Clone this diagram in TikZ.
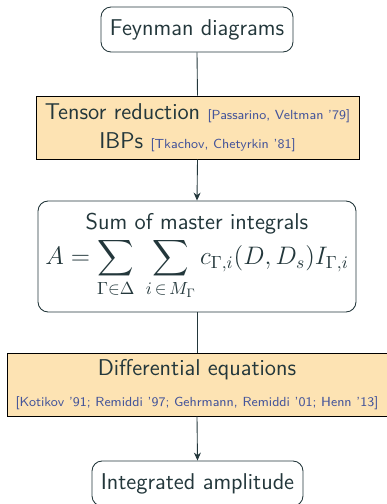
\documentclass[tikz,border=0pt]{standalone}
\usepackage{amsmath}
\usetikzlibrary{arrows.meta}
\definecolor{darkteal}{HTML}{23373B}
\definecolor{citeblue}{HTML}{45559A}
\definecolor{boxorange}{HTML}{FDE3B3}
\newcommand{\refnote}[1]{{\fontsize{7.5}{9}\selectfont\color{citeblue}[#1]}}
\tikzset{
  roundbox/.style={draw=darkteal, rounded corners=2mm, line width=0.5pt, text=darkteal,
    align=center, inner sep=0pt, font=\sffamily\fontsize{13}{16.5}\selectfont},
  orangebox/.style={draw=black, fill=boxorange, line width=0.5pt, text=darkteal,
    align=center, inner sep=0pt, font=\sffamily\fontsize{13}{16.5}\selectfont},
  flow/.style={draw=darkteal, line width=0.5pt},
  flowarrow/.style={flow, -{Stealth[length=1.6mm, width=1.4mm]}}
}

\begin{document}
\begin{tikzpicture}[x=0.02cm, y=-0.02cm]
  \useasboundingbox (0,0) rectangle (386,504);
  % Nodes
  \node[roundbox, minimum width=3.84cm, minimum height=0.9cm] (Feynman) at (197,29.5) {Feynman diagrams};
  \node[orangebox, minimum width=6.46cm, minimum height=1.26cm] (Tensor) at (197.5,127.5)
    {Tensor reduction \refnote{Passarino, Veltman '79}\\ IBPs \refnote{Tkachov, Chetyrkin '81}};
  \node[roundbox, minimum width=6.36cm, minimum height=2.22cm] (Masters) at (197,256.5)
    {Sum of master integrals\\[1pt]
     {\fontsize{14}{17}\selectfont
     $\displaystyle A=\sum_{\Gamma\in\Delta}\;\sum_{i\,\in\,M_\Gamma} c_{\Gamma,i}(D,D_s)I_{\Gamma,i}$%
     \rule[-6.3pt]{0pt}{0pt}}};
  \node[orangebox, minimum width=7.6cm, minimum height=1.26cm] (DiffEq) at (197,384.5)
    {Differential equations\\[1pt] \refnote{Kotikov '91; Remiddi '97; Gehrmann, Remiddi '01; Henn '13}};
  \node[roundbox, minimum width=4.22cm, minimum height=0.9cm] (Amplitude) at (197.5,483.5) {Integrated amplitude};
  % Edges
  \draw[flow] (Feynman.south) -- (Tensor.north);
  \draw[flowarrow] (Tensor.south) -- (Masters.north);
  \draw[flow] (Masters.south) -- (DiffEq.north);
  \draw[flowarrow] (DiffEq.south) -- (Amplitude.north);
\end{tikzpicture}
\end{document}
